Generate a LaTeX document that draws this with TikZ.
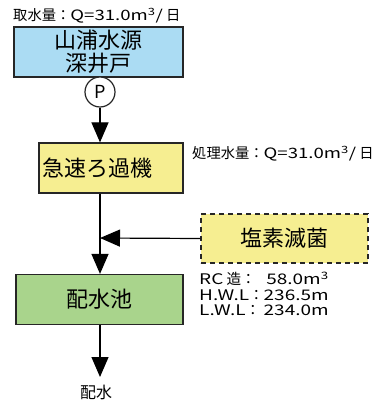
\documentclass[tikz,border=0pt]{standalone}
\usepackage{fontspec}
\setmainfont{Noto Sans CJK JP}
\newfontfamily\latw[FakeStretch=1.3]{Noto Sans CJK JP}
\usetikzlibrary{arrows.meta}
\definecolor{boxblue}{HTML}{ABDCF3}
\definecolor{boxyellow}{HTML}{F6EE91}
\definecolor{boxgreen}{HTML}{A9D48C}
\begin{document}
\begin{tikzpicture}[x=1pt,y=-1pt,
  box/.style={draw=black!85, line width=1.2pt, inner sep=0pt, minimum height=50pt,
    font=\fontsize{22}{24}\selectfont, align=center},
  boxtext/.style={inner sep=0pt, font=\fontsize{22}{24}\selectfont},
  flow/.style={line width=1.2pt, -{Triangle[width=17pt,length=20pt]}},
  lbl/.style={inner sep=0pt, font=\fontsize{14.3}{15}\selectfont, anchor=west, align=left}]
\useasboundingbox (0,0) rectangle (376,406);
% boxes
\node[box, fill=boxblue, minimum width=169pt] (well) at (98.5,52) {山浦水源\\[-1pt]深井戸};
\node[circle, draw=black!85, line width=1.2pt, fill=white, minimum size=30pt, inner sep=0pt,
  font=\fontsize{18}{18}\selectfont] (pump) at (100,92) {P};
\node[box, fill=boxyellow, minimum width=144pt] (filter) at (111,168) {};
\node[boxtext] (filtertext) at (97.5,168) {急速ろ過機};
\node[box, fill=boxyellow, dashed, dash pattern=on 5pt off 4pt, minimum width=167pt, minimum height=49pt] (chlor) at (284.5,238.5) {塩素滅菌};
\node[box, fill=boxgreen, minimum width=167pt] (tank) at (99.5,299.5) {配水池};
\node[inner sep=0pt, font=\fontsize{16}{16}\selectfont] (out) at (96,392) {配水};
% labels
\node[lbl] (lbl1) at (13,16) {取水量：{\latw Q=31.0m\textsuperscript{3}/} 日};
\node[lbl] (lbl2) at (192,154) {処理水量：{\latw Q=31.0m\textsuperscript{3}/} 日};
\node[lbl, font=\fontsize{14.6}{15.5}\selectfont] (spec) at (199,296) {%
  \begin{tabular}{@{}l@{}r@{}}
  {\latw RC} 造： & {\latw 58.0m\textsuperscript{3}}\\
  {\latw H.W.L}： & {\latw 236.5m}\\
  {\latw L.W.L}： & {\latw 234.0m}
  \end{tabular}};
% connectors
\coordinate (mj) at (100,238);
\draw[flow] (pump.south) -- (pump.south |- filter.north);
\draw[flow] (mj |- filter.south) -- (mj |- tank.north);
\draw[flow] (chlor.west) -- (mj);
\draw[flow] (tank.south -| mj) -- (mj |- 0,377);
\end{tikzpicture}
\end{document}
